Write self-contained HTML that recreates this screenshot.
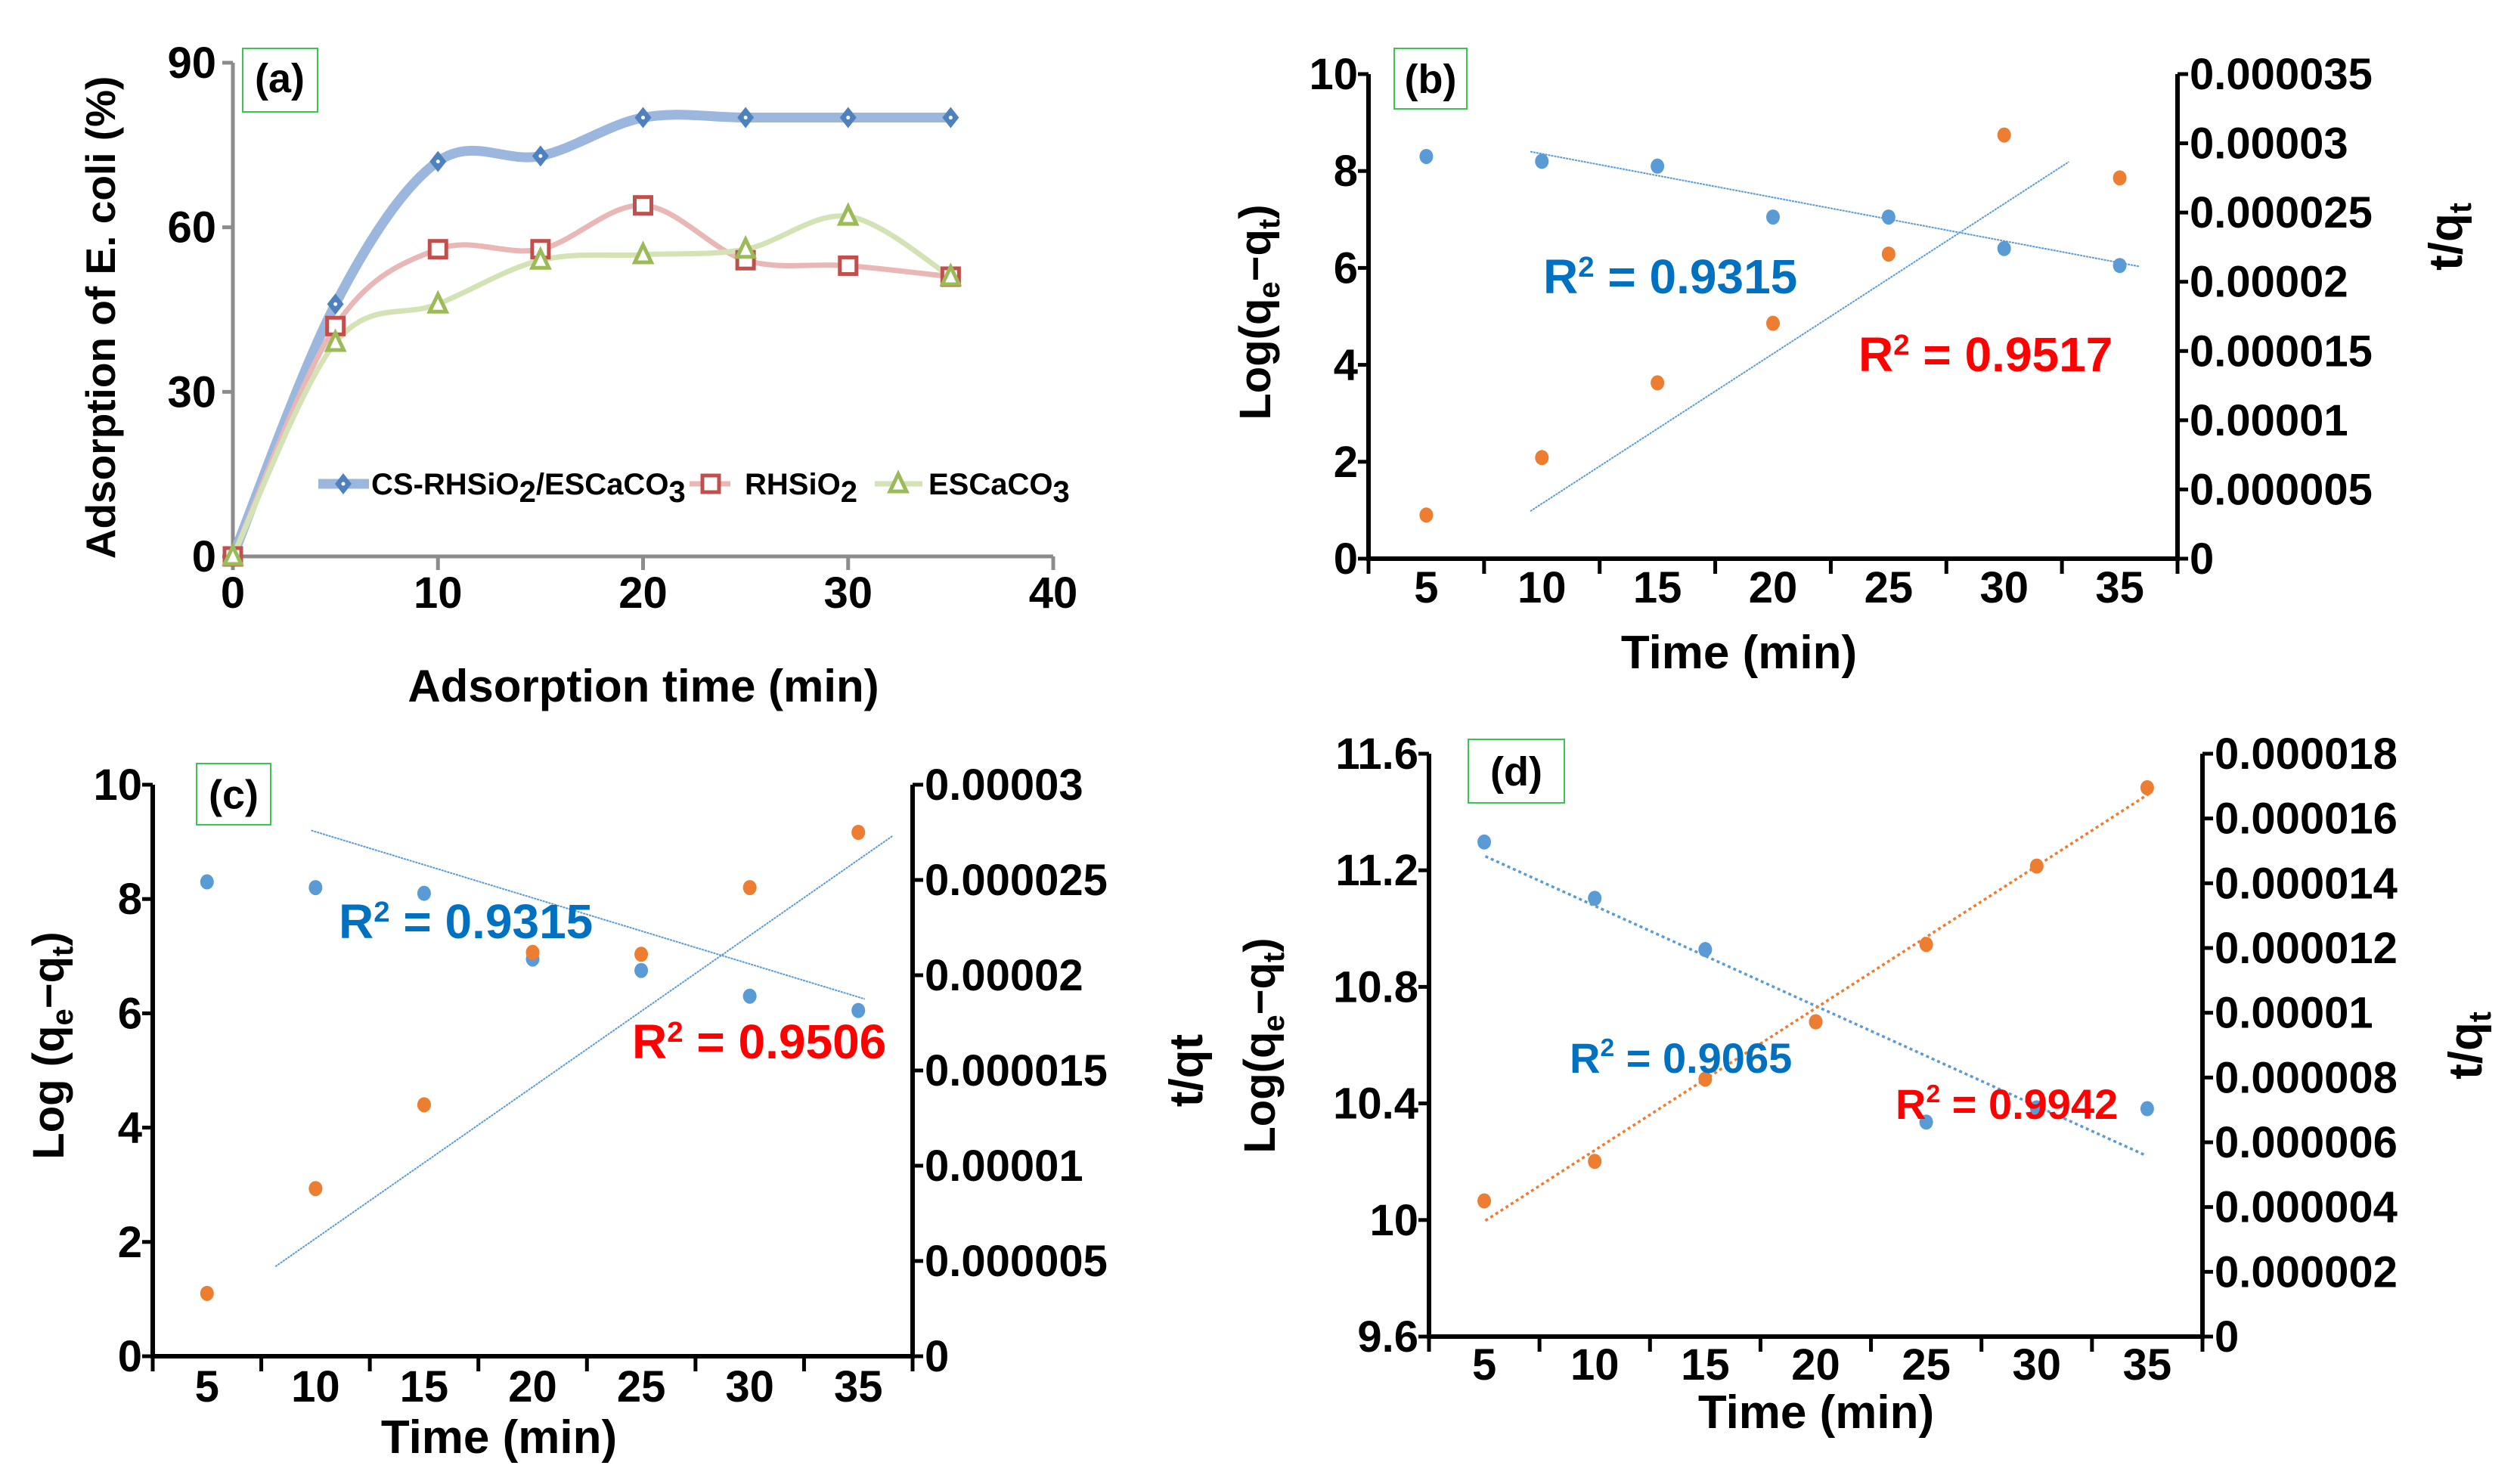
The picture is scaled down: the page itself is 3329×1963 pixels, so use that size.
<!DOCTYPE html>
<html><head><meta charset="utf-8"><style>
html,body{margin:0;padding:0;background:#fff;}
svg{display:block;}
text{font-family:"Liberation Sans Narrow","Liberation Sans",sans-serif;font-weight:bold;fill:#000;}
.arial{font-family:"Liberation Sans",sans-serif;}
</style></head><body>
<svg id="fig" width="3329" height="1963" viewBox="0 0 3329 1963" xmlns="http://www.w3.org/2000/svg"></svg>
<script>
// ---- Panel (a) data ----
const aTimes = [0, 5, 10, 15, 20, 25, 30, 35];
const aComposite = [0, 46, 72, 73, 80, 80, 80, 80];
const aRHSiO2 = [0, 42, 56, 56, 64, 54, 53, 51];
const aESCaCO3 = [0, 39, 46, 54, 55, 56, 62, 51];
const aYTicks = [0, 30, 60, 90];
const aXTicks = [0, 10, 20, 30, 40];
// ---- Panel (b) data ----
const catLabels = ['5', '10', '15', '20', '25', '30', '35'];
const bLog = [8.3, 8.2, 8.1, 7.05, 7.05, 6.4, 6.05];
const bTq = [3.15e-6, 7.3e-6, 1.27e-5, 1.7e-5, 2.2e-5, 3.06e-5, 2.75e-5];
const bTrendLog = [1.9, 8.4, 7.17, 6.03];
const bTrendTq = [1.9, 0.98, 6.56, 8.19];
const bLeftTicks = ['0', '2', '4', '6', '8', '10'];
const bRightTicks = ['0', '0.000005', '0.00001', '0.000015', '0.00002', '0.000025', '0.00003', '0.000035'];
// ---- Panel (c) data ----
const cLog = [8.3, 8.2, 8.1, 6.95, 6.75, 6.3, 6.05];
const cTq = [3.3e-6, 8.8e-6, 1.32e-5, 2.12e-5, 2.11e-5, 2.46e-5, 2.75e-5];
const cTrendLog = [1.96, 9.2, 7.06, 6.25];
const cTrendTq = [1.63, 1.57, 7.32, 9.11];
const cLeftTicks = ['0', '2', '4', '6', '8', '10'];
const cRightTicks = ['0', '0.000005', '0.00001', '0.000015', '0.00002', '0.000025', '0.00003'];
// ---- Panel (d) data ----
const dLog = [11.297, 11.104, 10.928, 10.68, 10.336, 10.385, 10.382];
const dTq = [4.19e-6, 5.41e-6, 7.95e-6, 9.72e-6, 1.211e-5, 1.453e-5, 1.695e-5];
const dTrendLog = [1.01, 11.248, 6.99, 10.221];
const dTrendTq = [1.01, 3.58e-6, 7.01, 1.675e-5];
const dLeftTicks = ['9.6', '10', '10.4', '10.8', '11.2', '11.6'];
const dRightTicks = ['0', '0.000002', '0.000004', '0.000006', '0.000008', '0.00001', '0.000012', '0.000014', '0.000016', '0.000018'];

const NS = 'http://www.w3.org/2000/svg';
const svg = document.getElementById('fig');
function mk(tag, attrs, parent) {
  const el = document.createElementNS(NS, tag);
  for (const k in attrs) el.setAttribute(k, attrs[k]);
  (parent || svg).appendChild(el);
  return el;
}
function txt(parent, x, y, str, size, anchor, cls) {
  const t = mk('text', {x: x, y: y, 'font-size': size, 'text-anchor': anchor || 'start'}, parent);
  if (cls) t.setAttribute('class', cls);
  t.textContent = str;
  return t;
}
function tspan(t, str, opts) {
  const s = mk('tspan', opts || {}, t);
  s.textContent = str;
  return s;
}
function smoothPath(pts) {
  let d = 'M' + pts[0][0] + ',' + pts[0][1];
  for (let i = 0; i < pts.length - 1; i++) {
    const p0 = pts[Math.max(i - 1, 0)], p1 = pts[i], p2 = pts[i + 1], p3 = pts[Math.min(i + 2, pts.length - 1)];
    const c1 = [p1[0] + (p2[0] - p0[0]) / 6, p1[1] + (p2[1] - p0[1]) / 6];
    const c2 = [p2[0] - (p3[0] - p1[0]) / 6, p2[1] - (p3[1] - p1[1]) / 6];
    d += ' C' + c1[0] + ',' + c1[1] + ' ' + c2[0] + ',' + c2[1] + ' ' + p2[0] + ',' + p2[1];
  }
  return d;
}

// ================= Panel (a) =================
(function () {
  const g = mk('g', {});
  
  
  const X0 = 308, X1 = 1393, Y0 = 736, Y1 = 83;
  const xs = v => X0 + (v - 0) / 40 * (X1 - X0);
  const ys = v => Y0 - v / 90 * (Y0 - Y1);
  const ax = mk('path', {d: 'M' + X0 + ',' + Y1 + ' V' + Y0 + ' H' + X1, stroke: '#8c8c8c', 'stroke-width': 5, fill: 'none'}, g);
  
  
  aYTicks.forEach(v => {
    const tk = mk('line', {x1: X0 - 14, x2: X0, y1: ys(v), y2: ys(v), stroke: '#8c8c8c', 'stroke-width': 5}, g);
    
    
    const t = txt(g, X0 - 22, ys(v) + 20, String(v), 58, 'end');
    
    
  });
  aXTicks.forEach(v => {
    const tk = mk('line', {x1: xs(v), x2: xs(v), y1: Y0, y2: Y0 + 18, stroke: '#8c8c8c', 'stroke-width': 5}, g);
    
    
    const t = txt(g, xs(v), 804, String(v), 58, 'middle');
    
    
  });
  const series = [
    {vals: aComposite, line: '#9bb7dd', w: 13, mk: '#4f81bd', kind: 'diamond', name: 'composite'},
    {vals: aRHSiO2, line: '#e8b7b6', w: 7, mk: '#c0504d', kind: 'square', name: 'rhsio2'},
    {vals: aESCaCO3, line: '#d4e3b5', w: 7, mk: '#9bbb59', kind: 'triangle', name: 'escaco3'}
  ];
  function marker(parent, kind, x, y, col) {
    let el;
    if (kind === 'diamond') {
      el = mk('path', {d: 'M' + x + ',' + (y - 14) + ' L' + (x + 11) + ',' + y + ' L' + x + ',' + (y + 14) + ' L' + (x - 11) + ',' + y + 'Z', fill: col}, parent);
      mk('circle', {cx: x, cy: y, r: 2.5, fill: '#fff'}, parent);
    } else if (kind === 'square') {
      el = mk('rect', {x: x - 11, y: y - 11, width: 22, height: 22, fill: '#fff', stroke: col, 'stroke-width': 5}, parent);
    } else {
      el = mk('path', {d: 'M' + x + ',' + (y - 13) + ' L' + (x + 11) + ',' + (y + 10) + ' L' + (x - 11) + ',' + (y + 10) + 'Z', fill: '#fff', stroke: col, 'stroke-width': 5}, parent);
    }
    return el;
  }
  series.forEach(s => {
    const pts = s.vals.map((v, i) => [xs(aTimes[i]), ys(v)]);
    const p = mk('path', {d: smoothPath(pts), stroke: s.line, 'stroke-width': s.w, fill: 'none', 'stroke-linecap': 'round'}, g);
    
    
  });
  series.forEach(s => {
    s.vals.forEach((v, i) => {
      const m = marker(g, s.kind, xs(aTimes[i]), ys(v), s.mk);
      
      
    });
  });
  const lg = mk('g', {}, g);
  
  
  const items = [
    {x0: 421, x1: 488, mx: 454, tx: 491, s: series[0], label: ['CS-RHSiO', '2', '/ESCaCO', '3']},
    {x0: 912, x1: 966, mx: 940, tx: 985, s: series[1], label: ['RHSiO', '2']},
    {x0: 1157, x1: 1220, mx: 1188, tx: 1228, s: series[2], label: ['ESCaCO', '3']}
  ];
  items.forEach(it => {
    const e = mk('g', {}, lg);
    
    
    mk('line', {x1: it.x0, x2: it.x1, y1: 640, y2: 640, stroke: it.s.line, 'stroke-width': it.s.w}, e);
    marker(e, it.s.kind, it.mx, 640, it.s.mk);
    const t = txt(e, it.tx, 654, '', 40, 'start');
    it.label.forEach((part, k) => {
      if (k % 2 === 1) tspan(t, part, {dy: 10, 'font-size': 40});
      else tspan(t, part, k > 0 ? {dy: -10} : {});
    });
  });
  const bx = mk('rect', {x: 321, y: 64, width: 99, height: 84, fill: 'none', stroke: '#3cc453', 'stroke-width': 2}, g);
  
  
  const lt = txt(g, 370, 122, '(a)', 54, 'middle');
  
  
  const yt = txt(g, 0, 0, 'Adsorption of E. coli (%)', 55, 'middle', 'arial');
  yt.setAttribute('transform', 'translate(152,420) rotate(-90)');
  
  
  const xt = txt(g, 851, 928, 'Adsorption time (min)', 60, 'middle', 'arial');
  
  
})();

// ================= Generic kinetic panel =================
function kineticPanel(cfg) {
  const g = mk('g', {});
  
  
  const {L, R, T, B} = cfg;
  const n = catLabels.length;
  const cw = (R - L) / n;
  const xs = c => L + cw * (c - 0.5);
  const yl = v => B - (v - cfg.lmin) / (cfg.lmax - cfg.lmin) * (B - T);
  const yr = v => B - v / cfg.rmax * (B - T);
  const ax = mk('path', {d: 'M' + L + ',' + T + ' V' + B + ' H' + R + ' V' + T, stroke: '#000', 'stroke-width': 6, fill: 'none'}, g);
  
  
  cfg.leftTicks.forEach((lab, i) => {
    const y = B - i / (cfg.leftTicks.length - 1) * (B - T);
    mk('line', {x1: L - 14, x2: L, y1: y, y2: y, stroke: '#000', 'stroke-width': 5}, g);
    const t = txt(g, L - 14, y + 20, lab, 58, 'end');
    
    
  });
  cfg.rightTicks.forEach((lab, i) => {
    const y = B - i / (cfg.rightTicks.length - 1) * (B - T);
    mk('line', {x1: R, x2: R + 14, y1: y, y2: y, stroke: '#000', 'stroke-width': 5}, g);
    const t = txt(g, R + 16, y + 20, lab, 58, 'start');
    
    
  });
  for (let i = 0; i <= n; i++) {
    mk('line', {x1: L + cw * i, x2: L + cw * i, y1: B, y2: B + 20, stroke: '#000', 'stroke-width': 5}, g);
  }
  catLabels.forEach((lab, i) => {
    const t = txt(g, xs(i + 1), cfg.xlabY, lab, 58, 'middle');
    
    
  });
  const tl = cfg.trendLog;
  const l1 = mk('line', {x1: xs(tl[0]), y1: yl(tl[1]), x2: xs(tl[2]), y2: yl(tl[3]), stroke: '#5b9bd5', 'stroke-width': cfg.dotted ? 3.5 : 2, 'stroke-dasharray': cfg.dotted ? '4 4' : '3 1'}, g);
  
  
  const tq = cfg.trendTq;
  const t2y1 = cfg.trendTqLeft ? yl(tq[1]) : yr(tq[1]);
  const t2y2 = cfg.trendTqLeft ? yl(tq[3]) : yr(tq[3]);
  const l2 = mk('line', {x1: xs(tq[0]), y1: t2y1, x2: xs(tq[2]), y2: t2y2, stroke: cfg.dotted ? '#ed7d31' : '#5b9bd5', 'stroke-width': cfg.dotted ? 3.5 : 2, 'stroke-dasharray': cfg.dotted ? '4 4' : '3 1'}, g);
  
  
  cfg.log.forEach((v, i) => {
    const c = mk('ellipse', {cx: xs(i + 1), cy: yl(v), rx: 9, ry: 10, fill: '#5b9bd5'}, g);
    
    
  });
  cfg.tq.forEach((v, i) => {
    const c = mk('ellipse', {cx: xs(i + 1), cy: yr(v), rx: 9, ry: 10, fill: '#ed7d31'}, g);
    
    
  });
  [[cfg.r2a, '#0070c0', 'r2-log-' + cfg.id], [cfg.r2b, '#ff0000', 'r2-tq-' + cfg.id]].forEach(([r, col, nm]) => {
    const t = txt(g, r[0], r[1], '', r[3], 'start');
    t.setAttribute('fill', col);
    t.setAttribute('style', 'fill:' + col);
    tspan(t, 'R');
    tspan(t, '2', {dy: -22, 'font-size': r[3] * 0.6});
    tspan(t, ' = ' + r[2], {dy: 22});
    
    
  });
  const bx = mk('rect', {x: cfg.box[0], y: cfg.box[1], width: cfg.box[2], height: cfg.box[3], fill: 'none', stroke: '#3cc453', 'stroke-width': 2}, g);
  
  
  const lt = txt(g, cfg.box[0] + cfg.box[2] / 2, cfg.box[1] + cfg.box[3] / 2 + 19, '(' + cfg.id + ')', 54, 'middle');
  
  
  const yt = txt(g, 0, 0, '', 58, 'middle', 'arial');
  yt.setAttribute('transform', 'translate(' + cfg.ltX + ',' + cfg.ltY + ') rotate(-90)');
  tspan(yt, cfg.logSpace ? 'Log (q' : 'Log(q');
  tspan(yt, 'e', {dy: 12, 'font-size': 40});
  tspan(yt, '\u2212q', {dy: -12});
  tspan(yt, 't', {dy: 12, 'font-size': 40});
  tspan(yt, ')', {dy: -12});
  
  
  const rt = txt(g, 0, 0, '', 62, 'middle', 'arial');
  rt.setAttribute('transform', 'translate(' + cfg.rtX + ',' + cfg.rtY + ') rotate(-90)');
  if (cfg.plainRight) { tspan(rt, 't/qt'); }
  else { tspan(rt, 't/q'); tspan(rt, 't', {dy: 12, 'font-size': 42}); }
  
  
  const xt = txt(g, cfg.xtX, cfg.xtY, 'Time (min)', 62, 'middle');
  
  
}

kineticPanel({id: 'b', L: 1810, R: 2880, T: 98, B: 739, lmin: 0, lmax: 10, rmax: 3.5e-5,
  leftTicks: bLeftTicks, rightTicks: bRightTicks, log: bLog, tq: bTq, trendLog: bTrendLog, trendTq: bTrendTq, trendTqLeft: true,
  r2a: [2041, 388, '0.9315', 64], r2b: [2458, 491, '0.9517', 64], box: [1844, 64, 96, 80],
  ltX: 1680, ltY: 413, rtX: 3256, rtY: 313, xtX: 2300, xtY: 884, xlabY: 797});
kineticPanel({id: 'c', L: 202, R: 1207, T: 1038, B: 1794, lmin: 0, lmax: 10, rmax: 3e-5,
  leftTicks: cLeftTicks, rightTicks: cRightTicks, log: cLog, tq: cTq, trendLog: cTrendLog, trendTq: cTrendTq, trendTqLeft: true,
  r2a: [448, 1241, '0.9315', 64], r2b: [836, 1400, '0.9506', 64], box: [260, 1010, 98, 81],
  ltX: 84, ltY: 1383, rtX: 1590, rtY: 1416, xtX: 660, xtY: 1922, xlabY: 1854, logSpace: true, plainRight: true});
kineticPanel({id: 'd', L: 1890, R: 2913, T: 997, B: 1768, lmin: 9.6, lmax: 11.6, rmax: 1.8e-5,
  leftTicks: dLeftTicks, rightTicks: dRightTicks, log: dLog, tq: dTq, trendLog: dTrendLog, trendTq: dTrendTq, trendTqLeft: false, dotted: true,
  r2a: [2076, 1419, '0.9065', 56], r2b: [2507, 1480, '0.9942', 56], box: [1942, 978, 127, 84],
  ltX: 1686, ltY: 1383, rtX: 3282, rtY: 1383, xtX: 2402, xtY: 1889, xlabY: 1825});
</script>
</body></html>
